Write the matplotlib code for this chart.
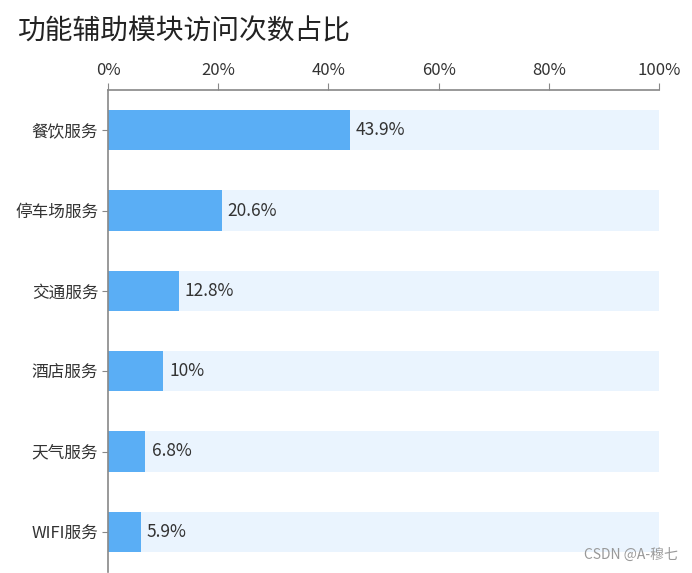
import matplotlib

matplotlib.use("Agg")
import matplotlib.pyplot as plt
from matplotlib.ticker import FuncFormatter

plt.rcParams["font.family"] = ["Noto Sans CJK SC", "DejaVu Sans"]

# --------------------------------------------------------------------- DATA

CATEGORIES = ["餐饮服务", "停车场服务", "交通服务", "酒店服务", "天气服务", "WIFI服务"]
SHARES = [43.9, 20.6, 12.8, 10, 6.8, 5.9]
X_TICKS = [0, 20, 40, 60, 80, 100]
TITLE = "功能辅助模块访问次数占比"

# ------------------------------------------------------------------------

BAR_COLOR = "#5aaef5"
BG_COLOR = "#eaf4fe"
TEXT_COLOR = "#333333"
AXIS_COLOR = "#888888"

fig = plt.figure(figsize=(6.92, 5.73), dpi=100)
ax = fig.add_axes([108 / 692, 1 / 573, 551 / 692, 482 / 573])

pos = range(len(CATEGORIES))
ax.barh(pos, [100] * len(CATEGORIES), height=0.5, color=BG_COLOR, zorder=1)
ax.barh(pos, SHARES, height=0.5, color=BAR_COLOR, zorder=2)
for y, v in zip(pos, SHARES):
    ax.text(v + 1.1, y, f"{v:g}%", va="center", ha="left", fontsize=12.5, color=TEXT_COLOR)

ax.set_xlim(0, 100)
ax.set_ylim(len(CATEGORIES) - 0.5, -0.5)
ax.set_yticks(list(pos), CATEGORIES)
ax.set_xticks(X_TICKS)
ax.xaxis.set_major_formatter(FuncFormatter(lambda v, _: f"{v:g}%"))
ax.xaxis.tick_top()

for side in ("right", "bottom"):
    ax.spines[side].set_visible(False)
for side in ("top", "left"):
    ax.spines[side].set_color(AXIS_COLOR)
    ax.spines[side].set_linewidth(1.2)
ax.tick_params(axis="x", colors=AXIS_COLOR, labelcolor=TEXT_COLOR, labelsize=12, length=5, pad=3)
ax.tick_params(axis="y", colors=AXIS_COLOR, labelcolor=TEXT_COLOR, labelsize=12, length=4, pad=3)

fig.text(18 / 692, 1 - 31 / 573, TITLE, fontsize=20, color="#222222", va="center", ha="left")
fig.text(678 / 692, 1 - 555 / 573, "CSDN @A-穆七", fontsize=10, color="#999999", va="center", ha="right")

fig.savefig("out.png", dpi=100)
